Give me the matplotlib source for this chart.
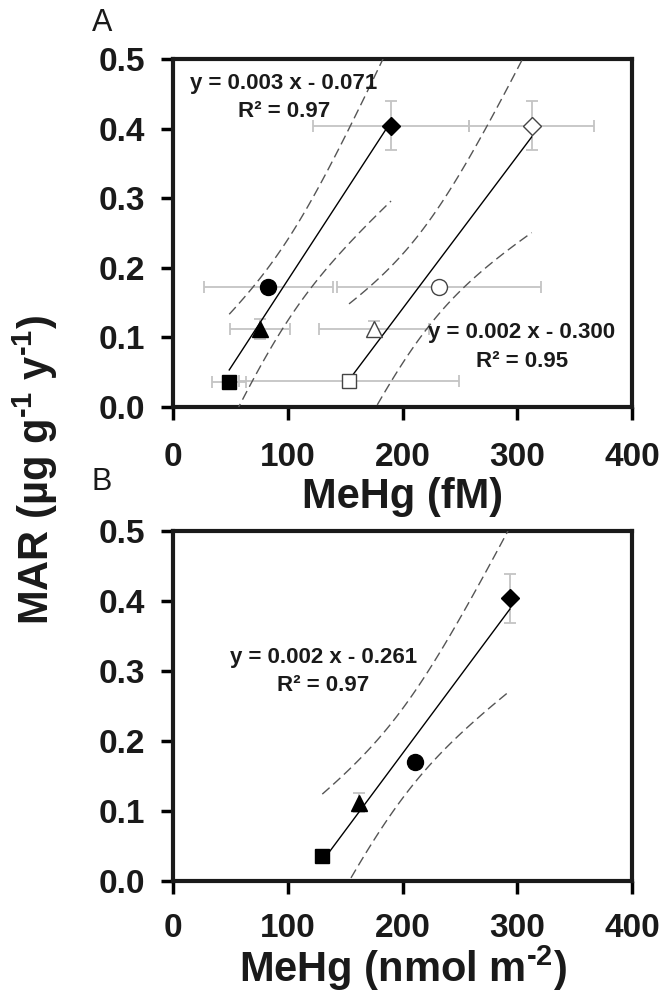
import numpy as np
import matplotlib
matplotlib.use('Agg')
import matplotlib.pyplot as plt

plt.rcParams['font.family'] = ['Liberation Sans', 'DejaVu Sans']
plt.rcParams['mathtext.fontset'] = 'custom'
plt.rcParams['mathtext.rm'] = 'Liberation Sans:bold'
plt.rcParams['mathtext.default'] = 'rm'

# panneau A : MeHg (fM) -- symboles pleins / vides
xA_full = np.array([49.0, 75.8, 83.1, 190.0])
yA_full = np.array([0.036, 0.112, 0.172, 0.404])
xerrA_full = np.array([15.0, 26.0, 56.0, 68.0])
yerrA_full = np.array([0.0, 0.014, 0.0, 0.035])

xA_open = np.array([153.4, 175.2, 232.0, 312.6])
yA_open = np.array([0.037, 0.112, 0.172, 0.404])
xerrA_open = np.array([96.0, 48.0, 89.0, 54.5])
yerrA_open = np.array([0.0, 0.012, 0.0, 0.035])

# panneau B : MeHg (nmol m-2)
xB = np.array([130.1, 162.4, 210.9, 293.7])
yB = np.array([0.036, 0.112, 0.170, 0.404])
yerrB = np.array([0.0, 0.014, 0.0, 0.035])

markers = ['s', '^', 'o', 'D']
msizes = [10.5, 11.5, 11.5, 9.2]

xticks = [0, 100, 200, 300, 400]
yticks = [0.0, 0.1, 0.2, 0.3, 0.4, 0.5]

T95 = 4.303  # student t, 2 ddl


def fit_band(ax, x, y):
    b, a = np.polyfit(x, y, 1)
    n = len(x)
    xs = np.linspace(x.min(), x.max(), 80)
    res = y - (a + b * x)
    s = np.sqrt(np.sum(res**2) / (n - 2))
    sxx = np.sum((x - x.mean())**2)
    se = s * np.sqrt(1.0 / n + (xs - x.mean())**2 / sxx)
    yfit = a + b * xs
    ax.plot(xs, yfit, '-', color='k', lw=1.0, zorder=3)
    ax.plot(xs, yfit + T95 * se, color='#555555', lw=1.0, dashes=(7, 3.5), zorder=3)
    ax.plot(xs, yfit - T95 * se, color='#555555', lw=1.0, dashes=(7, 3.5), zorder=3)


def style_axes(ax, xlabel, xpad=16, lpad=3):
    ax.set_xlim(0, 400)
    ax.set_ylim(0, 0.5)
    ax.set_xticks(xticks)
    ax.set_yticks(yticks)
    ax.set_yticklabels(['%.1f' % v for v in yticks])
    for sp in ax.spines.values():
        sp.set_linewidth(3.0)
        sp.set_color('#1a1a1a')
    ax.tick_params(axis='x', direction='out', length=9, width=2.5, pad=xpad,
                   labelsize=24, top=False)
    ax.tick_params(axis='y', direction='out', length=9, width=2.5, pad=11,
                   labelsize=24, right=False)
    for lab in ax.get_xticklabels() + ax.get_yticklabels():
        lab.set_fontweight('bold')
        lab.set_color('#1a1a1a')
    ax.set_xlabel(xlabel, fontsize=30, fontweight='bold', labelpad=lpad, color='#1a1a1a')


fig = plt.figure(figsize=(6.62, 9.97), dpi=100)
axA = fig.add_axes([173/662, 1-407/997, (632-173)/662, (407-59)/997])
axB = fig.add_axes([173/662, 1-881/997, (632-173)/662, (881-531)/997])

# --- A ---
for i in range(4):
    axA.errorbar(xA_full[i], yA_full[i], xerr=xerrA_full[i], yerr=yerrA_full[i],
                 fmt='none', ecolor='#c4c4c4', elinewidth=1.3, capsize=4, capthick=1.3, zorder=2)
    axA.errorbar(xA_open[i], yA_open[i], xerr=xerrA_open[i], yerr=yerrA_open[i],
                 fmt='none', ecolor='#c4c4c4', elinewidth=1.3, capsize=4, capthick=1.3, zorder=2)
fit_band(axA, xA_full, yA_full)
fit_band(axA, xA_open, yA_open)
for i in range(4):
    axA.plot(xA_full[i], yA_full[i], markers[i], ms=msizes[i], mfc='k', mec='k', zorder=5)
    axA.plot(xA_open[i], yA_open[i], markers[i], ms=msizes[i], mfc='white', mec='#444444',
             mew=1.0, zorder=5)

eqkw = dict(ha='center', va='center', fontsize=16, fontweight='bold',
            color='#1a1a1a', zorder=6)
axA.text(96, 0.4655, 'y = 0.003 x - 0.071', **eqkw)
axA.text(96.7, 0.424, 'R² = 0.97', **eqkw)
axA.text(304, 0.107, 'y = 0.002 x - 0.300', **eqkw)
axA.text(304.6, 0.065, 'R² = 0.95', **eqkw)
style_axes(axA, 'MeHg (fM)')

# --- B ---
axB.errorbar(xB, yB, yerr=yerrB, fmt='none', ecolor='#c4c4c4', elinewidth=1.3,
             capsize=4, capthick=1.3, zorder=2)
fit_band(axB, xB, yB)
for i in range(4):
    axB.plot(xB[i], yB[i], markers[i], ms=msizes[i], mfc='k', mec='k', zorder=5)
axB.text(131, 0.3196, 'y = 0.002 x - 0.261', **eqkw)
axB.text(131, 0.2786, 'R² = 0.97', **eqkw)
style_axes(axB, r'MeHg (nmol m$^{\text{-2}}$)', xpad=14, lpad=0)

fig.text(102/662, 1-23/997, 'A', fontsize=22, ha='center', va='center', color='#1a1a1a')
fig.text(102/662, 1-482/997, 'B', fontsize=22, ha='center', va='center', color='#1a1a1a')
fig.text(35/662, 1-470/997, r'MAR (µg g$^{\text{-1}}$ y$^{\text{-1}}$)', rotation=90, fontsize=30,
         fontweight='bold', ha='center', va='center', color='#1a1a1a')

fig.savefig('out.png', dpi=100)
